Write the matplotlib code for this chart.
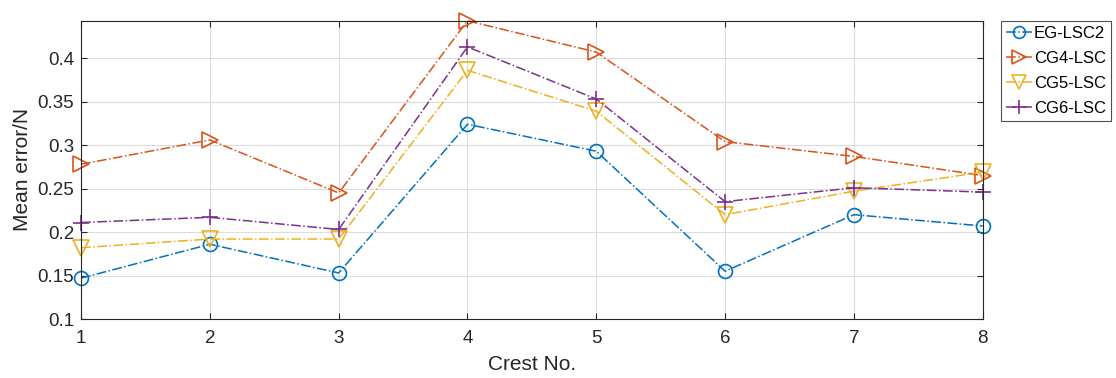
import numpy as np
import matplotlib.pyplot as plt

plt.rcParams['font.family'] = ['Liberation Sans', 'DejaVu Sans']

crest = [1, 2, 3, 4, 5, 6, 7, 8]
eg_lsc2 = [0.147, 0.186, 0.153, 0.324, 0.293, 0.155, 0.220, 0.207]
cg4_lsc = [0.278, 0.306, 0.245, 0.443, 0.407, 0.304, 0.287, 0.265]
cg5_lsc = [0.182, 0.192, 0.192, 0.386, 0.339, 0.220, 0.247, 0.269]
cg6_lsc = [0.211, 0.217, 0.203, 0.413, 0.353, 0.235, 0.251, 0.246]

fig = plt.figure(figsize=(11.16, 3.78), dpi=100)
ax = fig.add_axes([0.0726, 0.156, 0.808, 0.789])

style = dict(ls='-.', mfc='none', mew=1.2, lw=1.1, clip_on=False)
ax.plot(crest, eg_lsc2, color='#0072BD', marker='o', ms=10, label='EG-LSC2', **style)
ax.plot(crest, cg4_lsc, color='#D95319', marker='>', ms=12, label='CG4-LSC', **style)
ax.plot(crest, cg5_lsc, color='#EDB120', marker='v', ms=12, label='CG5-LSC', **style)
ax.plot(crest, cg6_lsc, color='#7E2F8E', marker='+', ms=12, label='CG6-LSC', **style)

ax.set_xlim(1, 8)
ax.set_ylim(0.1, max(cg4_lsc))
ax.set_xticks(crest)
ax.set_yticks([0.1, 0.15, 0.2, 0.25, 0.3, 0.35, 0.4])
ax.set_yticklabels(['0.1', '0.15', '0.2', '0.25', '0.3', '0.35', '0.4'])
ax.grid(True, color='#dcdcdc', lw=0.8)
ax.set_axisbelow(True)
ax.tick_params(direction='in', top=True, right=True, labelsize=13.5, colors='#262626', length=4)
ax.tick_params(axis='x', pad=8)
ax.tick_params(axis='y', pad=5)
for s in ax.spines.values():
    s.set_color('#262626')
    s.set_linewidth(0.8)

ax.set_xlabel('Crest No.', fontsize=15, color='#262626', labelpad=6)
ax.set_ylabel('Mean error/N', fontsize=15, color='#262626', labelpad=4)

leg = ax.legend(loc='upper left', bbox_to_anchor=(1.02, 1.0), fontsize=12, frameon=True,
                fancybox=False, edgecolor='#262626', handlelength=1.6, handletextpad=0.1,
                borderpad=0.3, labelspacing=0.6, borderaxespad=0, markerscale=0.85)
leg.get_frame().set_linewidth(0.8)

fig.savefig('out.png', dpi=100)
